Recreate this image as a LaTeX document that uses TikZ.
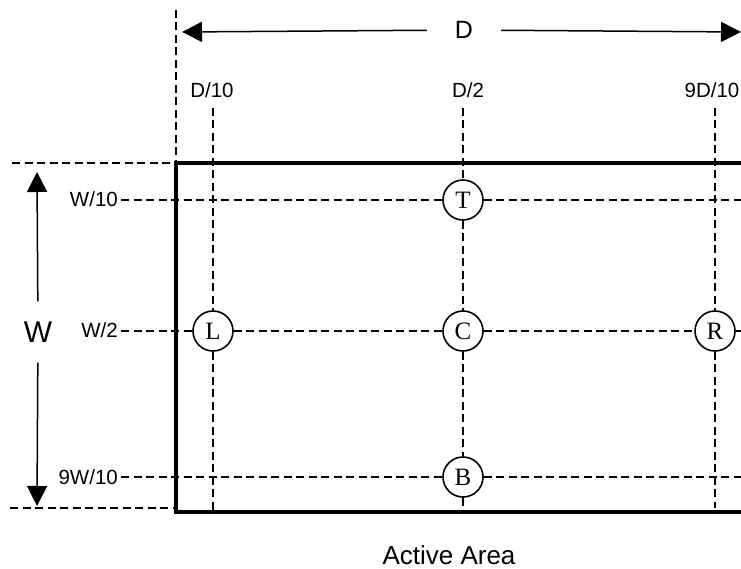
\documentclass[tikz,border=0pt]{standalone}
\usepackage{fontspec}
\setmainfont{Liberation Sans}
\newfontfamily\probefont{Liberation Serif}
\usetikzlibrary{arrows.meta}

\tikzset{
	guide/.style={line width=1.4pt, dash pattern=on 8pt off 4.5pt},
	frame/.style={line width=3.2pt},
	dimline/.style={line width=1.5pt, -{Triangle[length=20pt,width=20pt]}},
	lbl/.style={inner sep=1pt, font=\fontsize{20.5}{24}\selectfont},
	probe/.style={draw, circle, line width=1.6pt, fill=white, minimum size=40pt,
		inner sep=0pt, font=\probefont\fontsize{25}{25}\selectfont}
}

\begin{document}
\begin{tikzpicture}[x=1pt, y=-1pt]
	\useasboundingbox (0, 0) rectangle (741, 569);
	% outer extent marks
	\coordinate (ctop) at (176, 10);
	\coordinate (ccorner) at (176, 163);
	\coordinate (cleft) at (12, 163);
	\coordinate (cbleft) at (10, 508);
	\coordinate (cbcorner) at (176, 508);
	\draw[guide] (ctop) -- (ccorner);
	\draw[guide] (cleft) -- (ccorner);
	\draw[guide] (cbleft) -- (cbcorner);

	% column and row labels
	\node[lbl] (d10) at (212, 90) {D/10};
	\node[lbl] (d2) at (468, 90) {D/2};
	\node[lbl] (d910) at (712, 90) {9D/10};
	\node[lbl, anchor=east] (w10) at (119, 199) {W/10};
	\node[lbl, anchor=east] (w2) at (119, 330) {W/2};
	\node[lbl, anchor=east] (w910) at (119, 477) {9W/10};

	% measuring points
	\node[probe] (T) at (463, 200) {T};
	\node[probe] (L) at (213, 331) {L};
	\node[probe] (C) at (463, 331) {C};
	\node[probe] (R) at (715, 331) {R};
	\node[probe] (B) at (463, 477) {B};

	% free ends of the guide lines
	\coordinate (x1top) at (213, 108);
	\coordinate (x1bot) at (213, 511);
	\coordinate (x5top) at (463, 108);
	\coordinate (x5bot) at (463, 511);
	\coordinate (x9top) at (715, 108);
	\coordinate (x9bot) at (715, 508);
	\coordinate (y1start) at (121, 200);
	\coordinate (y1end) at (741, 200);
	\coordinate (y5start) at (121, 331);
	\coordinate (y5end) at (741, 331);
	\coordinate (y9start) at (121, 477);
	\coordinate (y9end) at (741, 477);

	\draw[guide] (x1top) -- (L) -- (x1bot);
	\draw[guide] (x5top) -- (T) -- (C) -- (B) -- (x5bot);
	\draw[guide] (x9top) -- (R) -- (x9bot);
	\draw[guide] (y1start) -- (T) -- (y1end);
	\draw[guide] (y5start) -- (L) -- (C) -- (R) -- (y5end);
	\draw[guide] (y9start) -- (B) -- (y9end);

	% active area outline
	\coordinate (ftr) at (741, 163);
	\coordinate (fbr) at (741, 512);
	\coordinate (fbl) at (176, 512);
	\draw[frame] (ftr) -- (ccorner) -- (fbl) -- (fbr);

	% dimensions
	\node[font=\fontsize{25}{30}\selectfont, inner xsep=28pt] (dlab) at (464, 30) {D};
	\coordinate (dleft) at (182, 32);
	\coordinate (dright) at (741, 32);
	\draw[dimline] (dlab) -- (dleft);
	\draw[dimline] (dlab) -- (dright);

	\node[font=\fontsize{30}{34}\selectfont, inner ysep=20pt] (wlab) at (38, 332) {W};
	\coordinate (wtop) at (37, 172);
	\coordinate (wbot) at (37, 506);
	\draw[dimline] (wlab) -- (wtop);
	\draw[dimline] (wlab) -- (wbot);

	\node[font=\fontsize{26}{30}\selectfont, inner sep=0pt] (area) at (449, 555) {Active Area};
\end{tikzpicture}
\end{document}
